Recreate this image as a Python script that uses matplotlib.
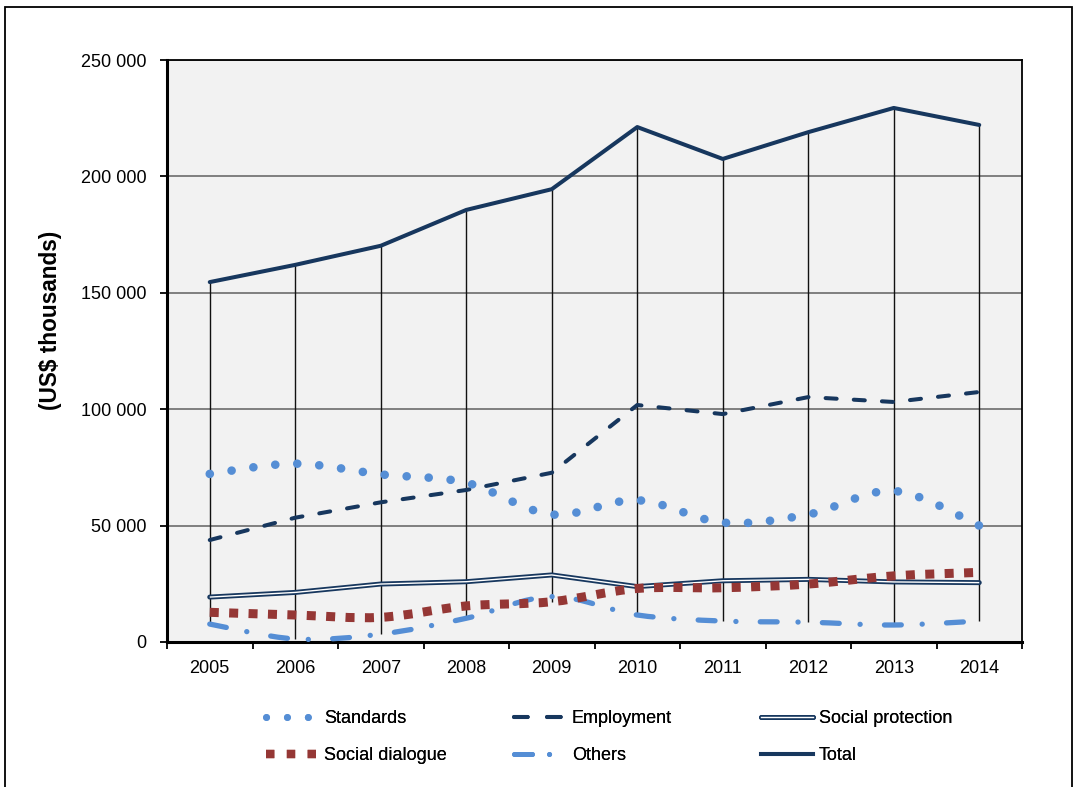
import numpy as np
import matplotlib
matplotlib.use("Agg")
import matplotlib.pyplot as plt
from matplotlib import font_manager
from matplotlib.lines import Line2D
from matplotlib.path import Path
from matplotlib.patches import PathPatch, Rectangle
from matplotlib.legend_handler import HandlerTuple
from matplotlib.ticker import FuncFormatter, FixedLocator

# ---- data (US$ thousands) ----
years = ["2005", "2006", "2007", "2008", "2009", "2010", "2011", "2012", "2013", "2014"]
standards = [72200, 76600, 72000, 68400, 54800, 60900, 51300, 54800, 64900, 50000]
employment = [43800, 53400, 60000, 65300, 72700, 101800, 97900, 105200, 103100, 107400]
social_protection = [19300, 21300, 24900, 25900, 28800, 23800, 26300, 26900, 25800, 25500]
social_dialogue = [12750, 11600, 10600, 15500, 17300, 23000, 23300, 24900, 28400, 29900]
others = [7700, 1300, 3400, 10200, 19500, 11600, 9000, 8500, 7300, 9000]
total = [154600, 162000, 170200, 185600, 194500, 221200, 207500, 219000, 229400, 222100]
y_ticks = [0, 50000, 100000, 150000, 200000, 250000]

# ---- fonts ----
available = {f.name for f in font_manager.fontManager.ttflist}
if "Liberation Sans Narrow" in available:
    base_family = ["Liberation Sans Narrow", "Liberation Sans", "DejaVu Sans"]
    fs_tick, fs_label = 14.4, 20
else:
    base_family = ["Liberation Sans", "DejaVu Sans"]
    fs_tick, fs_label = 13.0, 16.3
plt.rcParams["font.family"] = base_family

NAVY = "#17375E"
LIGHT = "#558ED5"
RED = "#953735"

W, H = 1077, 787
fig = plt.figure(figsize=(W / 100, H / 100), dpi=100)
fig.patch.set_facecolor("white")
ax = fig.add_axes([167 / W, (H - 642) / H, 855 / W, 582 / H])
ax.set_facecolor("#F2F2F2")

x = np.arange(len(years))


def smooth_path(xs, ys):
    """Cubic Bezier path through the points (Catmull-Rom style tangents)."""
    n = len(xs)
    verts = [(xs[0], ys[0])]
    codes = [Path.MOVETO]
    for i in range(n - 1):
        i0 = i - 1 if i > 0 else i
        i3 = i + 2 if i + 2 < n else i + 1
        c1 = (xs[i] + (xs[i + 1] - xs[i0]) / 6.0, ys[i] + (ys[i + 1] - ys[i0]) / 6.0)
        c2 = (xs[i + 1] - (xs[i3] - xs[i]) / 6.0, ys[i + 1] - (ys[i3] - ys[i]) / 6.0)
        verts += [c1, c2, (xs[i + 1], ys[i + 1])]
        codes += [Path.CURVE4] * 3
    return Path(verts, codes)


# grid
for v in y_ticks[1:]:
    ax.axhline(v, color="#7F7F7F", lw=1.4, zorder=1)

# high-low lines
stack = np.array([standards, employment, social_protection, social_dialogue, others, total])
ax.vlines(x, stack.min(axis=0), stack.max(axis=0), color="#111111", lw=1.0, zorder=2)

# styles
st_std = dict(color=LIGHT, lw=6.2, ls=(0, (0.01, 2.55)))
st_emp = dict(color=NAVY, lw=2.9, ls=(0, (2.75, 4.25)))
st_dia = dict(color=RED, lw=6.5, ls=(0, (1.0, 1.15)))
st_oth = dict(color=LIGHT, lw=3.8, ls=(0, (3.2, 3.95, 0.02, 4.6)))

# social protection (double line)
ax.plot(x, social_protection, color=NAVY, lw=3.6, solid_capstyle="round",
        solid_joinstyle="round", zorder=3)
ax.plot(x, social_protection, color="white", lw=1.0, solid_capstyle="butt", zorder=3.1)

# employment
ax.plot(x, employment, color=st_emp["color"], lw=st_emp["lw"], ls=st_emp["ls"],
        dash_capstyle="round", zorder=4)

# smoothed series
for data, st, cap, z in [(standards, st_std, "round", 5),
                         (others, st_oth, "round", 5.5),
                         (social_dialogue, st_dia, "butt", 6)]:
    patch = PathPatch(smooth_path(x.astype(float), np.asarray(data, float)),
                      fill=False, edgecolor=st["color"], lw=st["lw"],
                      linestyle=st["ls"], capstyle=cap, zorder=z)
    ax.add_patch(patch)

# total
ax.plot(x, total, color=NAVY, lw=2.9, solid_joinstyle="round",
        solid_capstyle="round", zorder=7)

# axes
ax.set_xlim(-0.5, len(years) - 0.5)
ax.set_ylim(0, 250000)
ax.set_xticks(x)
ax.set_xticklabels(years)
ax.xaxis.set_minor_locator(FixedLocator(np.arange(-0.5, len(years), 1.0)))
ax.tick_params(axis="x", which="major", length=0, pad=13, labelsize=fs_tick)
ax.tick_params(axis="x", which="minor", length=5, width=1.3, direction="out")
ax.set_yticks(y_ticks)
ax.yaxis.set_major_formatter(FuncFormatter(lambda v, p: f"{int(v):,}".replace(",", " ")))
ax.tick_params(axis="y", length=5, width=1.3, direction="out", pad=10, labelsize=fs_tick)
for side in ["left", "bottom"]:
    ax.spines[side].set_linewidth(2.2)
    ax.spines[side].set_color("black")
for side in ["top", "right"]:
    ax.spines[side].set_linewidth(1.3)
    ax.spines[side].set_color("black")

fig.text(51 / W, 1 - 320 / H, "(US$ thousands)", rotation=90, ha="center", va="center",
         fontsize=fs_label, fontweight="bold", family=base_family)

# legend proxies
h_std = Line2D([], [], color=LIGHT, lw=5.0, ls=(0, (0.01, 3.0)), dash_capstyle="round")
h_emp = Line2D([], [], color=NAVY, lw=2.9, ls=(0, (3.4, 4.8)), dash_capstyle="round")
h_dia = Line2D([], [], color=RED, lw=6.0, ls=(0, (1.0, 1.5)), dash_capstyle="butt")
h_oth = Line2D([], [], color=LIGHT, lw=3.6, ls=(0, (3.6, 3.4, 0.02, 3.4)), dash_capstyle="round")
h_sp = (Line2D([], [], color=NAVY, lw=3.6, solid_capstyle="round"),
        Line2D([], [], color="white", lw=1.0))
h_tot = Line2D([], [], color=NAVY, lw=2.9)

columns = [
    ([h_std, h_dia], ["Standards", "Social dialogue"], 266),
    ([h_emp, h_oth], ["Employment", "Others"], 514),
    ([h_sp, h_tot], ["Social protection", "Total"], 761),
]
for handles, labels, xp in columns:
    leg = fig.legend(handles, labels, loc="center left",
                     bbox_to_anchor=(xp / W, 1 - 737 / H),
                     frameon=False, fontsize=fs_tick, handlelength=2.9,
                     handletextpad=0.3, labelspacing=1.12, borderpad=0,
                     borderaxespad=0,
                     handler_map={tuple: HandlerTuple(ndivide=1, pad=0)})
    fig.add_artist(leg)

# outer frame
fig.add_artist(Rectangle((5 / W, -0.02), (1072 - 5) / W, (H - 7) / H + 0.02,
                         transform=fig.transFigure, fill=False, edgecolor="black",
                         lw=1.3))

fig.savefig("out.png", dpi=100, facecolor="white")
